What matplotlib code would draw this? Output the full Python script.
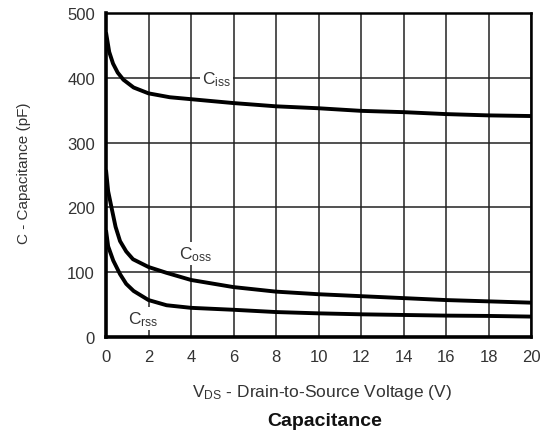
import matplotlib
matplotlib.use('Agg')
import matplotlib.pyplot as plt

plt.rcParams['font.family'] = ['Liberation Sans', 'DejaVu Sans']
plt.rcParams['mathtext.default'] = 'regular'

# Capacitance vs drain-to-source voltage
v_iss = [0, 0.15, 0.33, 0.55, 0.82, 1.3, 2, 3, 4, 6, 8, 10, 12, 14, 16, 18, 20]
c_iss = [470, 440, 422, 408, 397, 385, 376, 370, 367, 361, 356, 353, 349, 347, 344, 342, 341]

v_oss = [0, 0.1, 0.27, 0.45, 0.66, 0.95, 1.27, 2, 2.85, 4, 6, 8, 10, 12, 14, 16, 18, 20]
c_oss = [258, 225, 198, 170, 148, 132, 120, 108, 99, 88, 77, 70, 66, 63, 60, 57, 55, 53]

v_rss = [0, 0.1, 0.34, 0.66, 0.95, 1.3, 2, 2.85, 4, 6, 8, 10, 12, 14, 16, 18, 20]
c_rss = [165, 140, 118, 97, 82, 71, 57, 49, 45, 42, 38.5, 36.5, 35, 34, 33, 32.5, 31.5]

xticks = list(range(0, 21, 2))
yticks = [0, 100, 200, 300, 400, 500]

fig = plt.figure(figsize=(5.51, 4.35), dpi=100)
ax = fig.add_axes([0.1924, 0.223, 0.7713, 0.7448])

for v, c in [(v_iss, c_iss), (v_oss, c_oss), (v_rss, c_rss)]:
    ax.plot(v, c, color='black', lw=2.8, zorder=4, solid_capstyle='butt')

ax.set_xlim(0, 20)
ax.set_ylim(0, 500)
ax.set_xticks(xticks)
ax.set_yticks(yticks)
ax.grid(True, color='#222222', lw=1.1)
ax.tick_params(length=0, labelsize=12, labelcolor='#333333')
ax.tick_params(axis='x', pad=9)
ax.tick_params(axis='y', pad=8)
for side in ['left', 'bottom']:
    ax.spines[side].set_linewidth(2.6)
for side in ['top', 'right']:
    ax.spines[side].set_linewidth(1.8)

# curve labels sit on a white patch that breaks the grid lines
box = dict(facecolor='white', edgecolor='none', pad=1.5)
ax.text(5.2, 399, r'C$_{iss}$', fontsize=12.5, color='#333333', ha='center',
        va='center', bbox=box, zorder=3)
ax.text(4.2, 129, r'C$_{oss}$', fontsize=12.5, color='#333333', ha='center',
        va='center', bbox=box, zorder=3)
ax.text(1.75, 29, r'C$_{rss}$', fontsize=12.5, color='#333333', ha='center',
        va='center', bbox=box, zorder=3)

fig.text(0.584, 1 - 393 / 435, r'V$_{DS}$ - Drain-to-Source Voltage (V)',
         fontsize=12.5, color='#333333', ha='center', va='center')
fig.text(0.044, 1 - 173 / 435, 'C - Capacitance (pF)', fontsize=11,
         color='#333333', ha='center', va='center', rotation=90)
fig.text(0.59, 1 - 422 / 435, 'Capacitance', fontsize=14, weight='bold',
         color='#111111', ha='center', va='center')

fig.savefig('out.png', dpi=100)
